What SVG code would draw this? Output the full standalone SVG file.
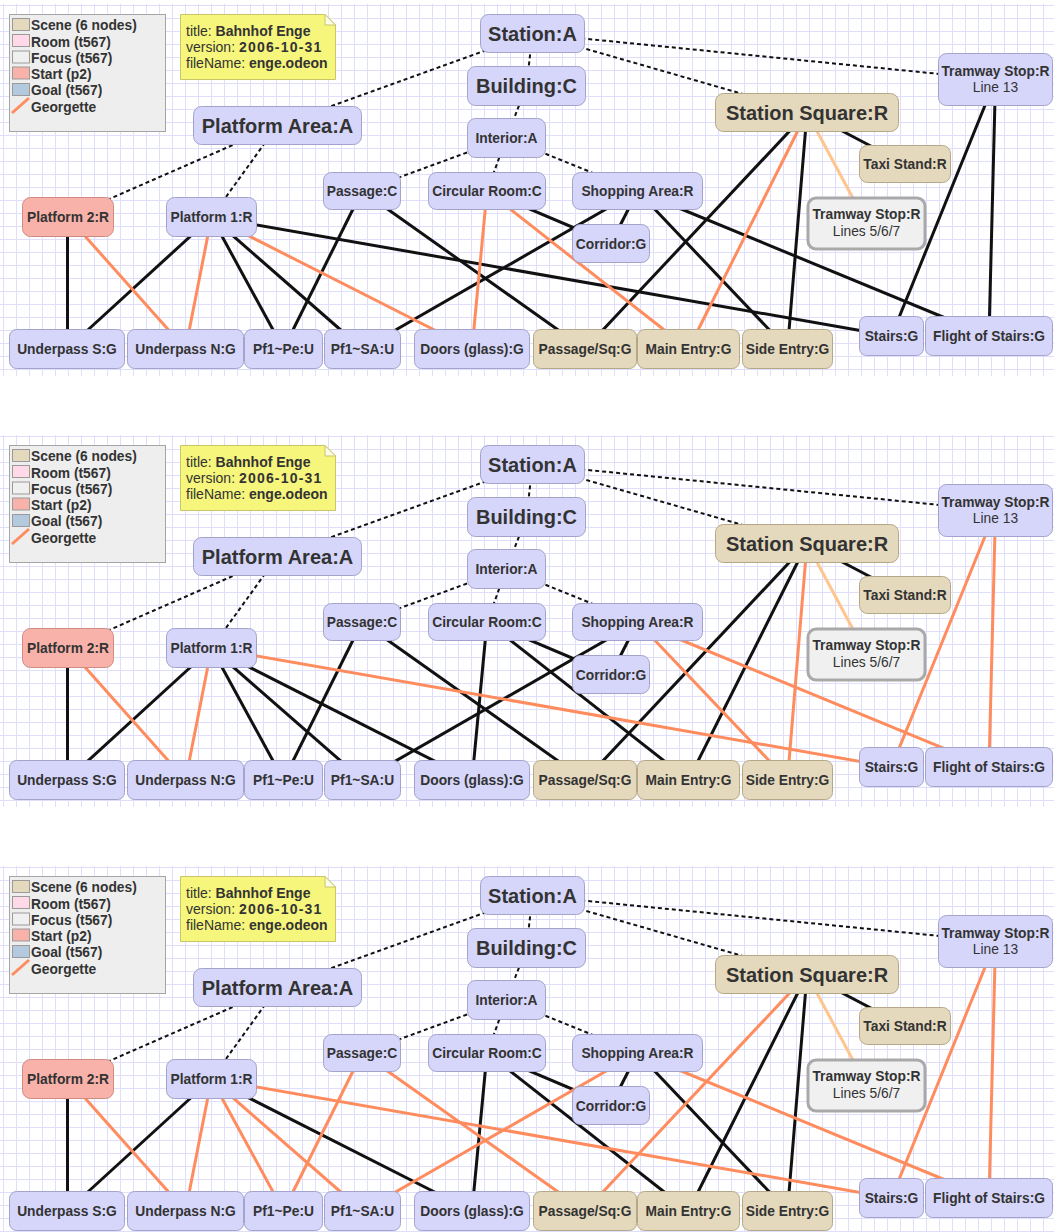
<svg xmlns="http://www.w3.org/2000/svg" width="1054" height="1232" viewBox="0 0 1054 1232">
  <defs>
    <pattern id="grid" width="13" height="13" patternUnits="userSpaceOnUse" x="3" y="5">
      <path d="M0 0.5H13M0.5 0V13" stroke="#dfdffb" stroke-width="1" fill="none"/>
    </pattern>
    <style>
      text { font-family: "Liberation Sans", Arial, sans-serif; fill: #333; font-weight: bold; }
      .big { font-size: 20px; }
      .sm { font-size: 13.8px; }
      .reg { font-weight: normal; }
      .node text { text-anchor: middle; }
      .node rect { fill: #d6d6fb; stroke: #a3a3cc; stroke-width: 1; }
      .node.scene rect { fill: #e5d9bd; stroke: #b5a888; }
      .node.start rect { fill: #f8b2aa; stroke: #cf8b84; }
      .node.focus rect { fill: #f0f0f0; stroke: #a9a9a9; stroke-width: 3; }
      .edges line { fill: none; }
      .k { stroke: #111; stroke-width: 3; }
      .o { stroke: #ff8c5e; stroke-width: 3; }
      .lo { stroke: #ffc58c; stroke-width: 3; }
      .d { stroke: #111; stroke-width: 2; stroke-dasharray: 4 3; }
      .legend-box { fill: #eeeeee; stroke: #a5a5a5; }
      .sw { stroke: #9a9a9a; stroke-width: 1; }
      .legend text { font-size: 13.8px; }
      .note path.body { fill: #f6f57c; stroke: #c9c66a; }
      .note text { font-size: 14px; }
      .wide { letter-spacing: 1.2px; }
    </style>
  </defs>

  <rect x="0" y="0" width="1054" height="1232" fill="#ffffff"/>

  <!-- ===================== panel 1 ===================== -->
  <g id="panel-1">
    <rect x="0" y="4" width="1054" height="372" fill="url(#grid)"/>

    <g id="p1-legend" class="legend">
      <rect class="legend-box" x="9.5" y="14.5" width="156" height="117"/>
      <rect class="sw" x="12.5" y="18.5" width="17" height="12" fill="#e5d9bd"/>
      <rect class="sw" x="12.5" y="34.5" width="17" height="12" fill="#ffd9e8"/>
      <rect class="sw" x="12.5" y="51" width="17" height="12" fill="#f0f0f0"/>
      <rect class="sw" x="12.5" y="67" width="17" height="12" fill="#f8b2aa"/>
      <rect class="sw" x="12.5" y="83.5" width="17" height="12" fill="#b2c9de"/>
      <line x1="12" y1="113" x2="29" y2="98" class="o"/>
      <text x="31" y="30">Scene (6 nodes)</text>
      <text x="31" y="46.5">Room (t567)</text>
      <text x="31" y="62.5">Focus (t567)</text>
      <text x="31" y="79">Start (p2)</text>
      <text x="31" y="95">Goal (t567)</text>
      <text x="31" y="111.5">Georgette</text>
    </g>

    <g id="p1-note" class="note">
      <path class="body" d="M180.5 14.5H325L335.5 25V79.5H180.5Z"/>
      <path d="M325 14.5V25H335.5Z" fill="#fbfbe8" stroke="#c9c66a"/>
      <text x="186" y="36"><tspan class="reg">title: </tspan>Bahnhof Enge</text>
      <text x="186" y="52"><tspan class="reg">version: </tspan><tspan class="wide">2006-10-31</tspan></text>
      <text x="186" y="68"><tspan class="reg">fileName: </tspan>enge.odeon</text>
    </g>

    <g id="p1-edges" class="edges">
      <line class="d" x1="532.5" y1="33.5" x2="277.5" y2="125.5"/>
      <line class="d" x1="532.5" y1="33.5" x2="526.5" y2="86"/>
      <line class="d" x1="532.5" y1="33.5" x2="995.5" y2="79.5"/>
      <line class="d" x1="532.5" y1="33.5" x2="807" y2="112.5"/>
      <line class="d" x1="526.5" y1="86" x2="506.5" y2="138"/>
      <line class="d" x1="277.5" y1="125.5" x2="68" y2="217"/>
      <line class="d" x1="277.5" y1="125.5" x2="211.5" y2="217"/>
      <line class="d" x1="506.5" y1="138" x2="362" y2="191"/>
      <line class="d" x1="506.5" y1="138" x2="487" y2="191"/>
      <line class="d" x1="506.5" y1="138" x2="637.5" y2="191"/>
      <line class="k" x1="67.5" y1="217" x2="67.5" y2="349"/>
      <line class="k" x1="211.5" y1="217" x2="67" y2="349"/>
      <line class="k" x1="211.5" y1="217" x2="283.5" y2="349"/>
      <line class="k" x1="211.5" y1="217" x2="362.5" y2="349"/>
      <line class="k" x1="211.5" y1="217" x2="891.5" y2="336"/>
      <line class="k" x1="362" y1="191" x2="283.5" y2="349"/>
      <line class="k" x1="362" y1="191" x2="585" y2="349"/>
      <line class="k" x1="487" y1="191" x2="611" y2="243.5"/>
      <line class="k" x1="637.5" y1="191" x2="362.5" y2="349"/>
      <line class="k" x1="637.5" y1="191" x2="611" y2="243.5"/>
      <line class="k" x1="637.5" y1="191" x2="787.5" y2="349"/>
      <line class="k" x1="637.5" y1="191" x2="989" y2="336"/>
      <line class="k" x1="807" y1="112.5" x2="585" y2="349"/>
      <line class="k" x1="807" y1="112.5" x2="787.5" y2="349"/>
      <line class="k" x1="807" y1="112.5" x2="905" y2="164"/>
      <line class="k" x1="995.5" y1="79.5" x2="891.5" y2="336"/>
      <line class="k" x1="995.5" y1="79.5" x2="989" y2="336"/>
      <line class="o" x1="68" y1="217" x2="185.5" y2="349"/>
      <line class="o" x1="211.5" y1="217" x2="185.5" y2="349"/>
      <line class="o" x1="211.5" y1="217" x2="472" y2="349"/>
      <line class="o" x1="487" y1="191" x2="472" y2="349"/>
      <line class="o" x1="487" y1="191" x2="688.5" y2="349"/>
      <line class="o" x1="807" y1="112.5" x2="688.5" y2="349"/>
      <line class="lo" x1="807" y1="112.5" x2="866.5" y2="223.5"/>
    </g>

    <g id="p1-station" class="node"><rect x="480.5" y="14.5" width="104" height="38" rx="8"/><text class="big" x="532.5" y="41">Station:A</text></g>
    <g id="p1-building" class="node"><rect x="467.5" y="66.5" width="118" height="39" rx="8"/><text class="big" x="526.5" y="93">Building:C</text></g>
    <g id="p1-platform-area" class="node"><rect x="193.5" y="106.5" width="168" height="38" rx="8"/><text class="big" x="277.5" y="133">Platform Area:A</text></g>
    <g id="p1-station-square" class="node scene"><rect x="715.5" y="93.5" width="183" height="38" rx="8"/><text class="big" x="807" y="119.5">Station Square:R</text></g>
    <g id="p1-tramway-13" class="node"><rect x="938.5" y="53.5" width="114" height="52" rx="8"/><text class="sm" x="995.5" y="75.5">Tramway Stop:R</text><text class="sm reg" x="995.5" y="92">Line 13</text></g>
    <g id="p1-interior" class="node"><rect x="467.5" y="118.5" width="78" height="39" rx="8"/><text class="sm" x="506.5" y="143">Interior:A</text></g>
    <g id="p1-passage" class="node"><rect x="323.5" y="172.5" width="77" height="37" rx="8"/><text class="sm" x="362" y="196">Passage:C</text></g>
    <g id="p1-circular-room" class="node"><rect x="428.5" y="172.5" width="117" height="37" rx="8"/><text class="sm" x="487" y="196">Circular Room:C</text></g>
    <g id="p1-shopping-area" class="node"><rect x="572.5" y="172.5" width="130" height="37" rx="8"/><text class="sm" x="637.5" y="196">Shopping Area:R</text></g>
    <g id="p1-corridor" class="node"><rect x="572.5" y="224.5" width="77" height="38" rx="8"/><text class="sm" x="611" y="248.5">Corridor:G</text></g>
    <g id="p1-platform-2" class="node start"><rect x="22.5" y="197.5" width="91" height="39" rx="8"/><text class="sm" x="68" y="222">Platform 2:R</text></g>
    <g id="p1-platform-1" class="node"><rect x="166.5" y="197.5" width="90" height="39" rx="8"/><text class="sm" x="211.5" y="222">Platform 1:R</text></g>
    <g id="p1-taxi-stand" class="node scene"><rect x="859.5" y="145.5" width="91" height="37" rx="8"/><text class="sm" x="905" y="169">Taxi Stand:R</text></g>
    <g id="p1-tramway-567" class="node focus"><rect x="808" y="198" width="117" height="51" rx="8"/><text class="sm" x="866.5" y="219">Tramway Stop:R</text><text class="sm reg" x="866.5" y="236">Lines 5/6/7</text></g>
    <g id="p1-underpass-s" class="node"><rect x="9.5" y="329.5" width="115" height="39" rx="7"/><text class="sm" x="67" y="354">Underpass S:G</text></g>
    <g id="p1-underpass-n" class="node"><rect x="127.5" y="329.5" width="116" height="39" rx="7"/><text class="sm" x="185.5" y="354">Underpass N:G</text></g>
    <g id="p1-pf1-pe" class="node"><rect x="244.5" y="329.5" width="78" height="39" rx="7"/><text class="sm" x="283.5" y="354">Pf1~Pe:U</text></g>
    <g id="p1-pf1-sa" class="node"><rect x="324.5" y="329.5" width="76" height="39" rx="7"/><text class="sm" x="362.5" y="354">Pf1~SA:U</text></g>
    <g id="p1-doors" class="node"><rect x="414.5" y="329.5" width="115" height="39" rx="7"/><text class="sm" x="472" y="354">Doors (glass):G</text></g>
    <g id="p1-passage-sq" class="node scene"><rect x="533.5" y="329.5" width="103" height="39" rx="7"/><text class="sm" x="585" y="354">Passage/Sq:G</text></g>
    <g id="p1-main-entry" class="node scene"><rect x="637.5" y="329.5" width="102" height="39" rx="7"/><text class="sm" x="688.5" y="354">Main Entry:G</text></g>
    <g id="p1-side-entry" class="node scene"><rect x="742.5" y="329.5" width="90" height="39" rx="7"/><text class="sm" x="787.5" y="354">Side Entry:G</text></g>
    <g id="p1-stairs" class="node"><rect x="859.5" y="316.5" width="64" height="39" rx="7"/><text class="sm" x="891.5" y="341">Stairs:G</text></g>
    <g id="p1-flight" class="node"><rect x="925.5" y="316.5" width="127" height="39" rx="7"/><text class="sm" x="989" y="341">Flight of Stairs:G</text></g>
  </g>

  <!-- ===================== panel 2 ===================== -->
  <g id="panel-2" transform="translate(0,431)">
    <rect x="0" y="4" width="1054" height="372" fill="url(#grid)"/>

    <g id="p2-legend" class="legend">
      <rect class="legend-box" x="9.5" y="14.5" width="156" height="117"/>
      <rect class="sw" x="12.5" y="18.5" width="17" height="12" fill="#e5d9bd"/>
      <rect class="sw" x="12.5" y="34.5" width="17" height="12" fill="#ffd9e8"/>
      <rect class="sw" x="12.5" y="51" width="17" height="12" fill="#f0f0f0"/>
      <rect class="sw" x="12.5" y="67" width="17" height="12" fill="#f8b2aa"/>
      <rect class="sw" x="12.5" y="83.5" width="17" height="12" fill="#b2c9de"/>
      <line x1="12" y1="113" x2="29" y2="98" class="o"/>
      <text x="31" y="30">Scene (6 nodes)</text>
      <text x="31" y="46.5">Room (t567)</text>
      <text x="31" y="62.5">Focus (t567)</text>
      <text x="31" y="79">Start (p2)</text>
      <text x="31" y="95">Goal (t567)</text>
      <text x="31" y="111.5">Georgette</text>
    </g>

    <g id="p2-note" class="note">
      <path class="body" d="M180.5 14.5H325L335.5 25V79.5H180.5Z"/>
      <path d="M325 14.5V25H335.5Z" fill="#fbfbe8" stroke="#c9c66a"/>
      <text x="186" y="36"><tspan class="reg">title: </tspan>Bahnhof Enge</text>
      <text x="186" y="52"><tspan class="reg">version: </tspan><tspan class="wide">2006-10-31</tspan></text>
      <text x="186" y="68"><tspan class="reg">fileName: </tspan>enge.odeon</text>
    </g>

    <g id="p2-edges" class="edges">
      <line class="d" x1="532.5" y1="33.5" x2="277.5" y2="125.5"/>
      <line class="d" x1="532.5" y1="33.5" x2="526.5" y2="86"/>
      <line class="d" x1="532.5" y1="33.5" x2="995.5" y2="79.5"/>
      <line class="d" x1="532.5" y1="33.5" x2="807" y2="112.5"/>
      <line class="d" x1="526.5" y1="86" x2="506.5" y2="138"/>
      <line class="d" x1="277.5" y1="125.5" x2="68" y2="217"/>
      <line class="d" x1="277.5" y1="125.5" x2="211.5" y2="217"/>
      <line class="d" x1="506.5" y1="138" x2="362" y2="191"/>
      <line class="d" x1="506.5" y1="138" x2="487" y2="191"/>
      <line class="d" x1="506.5" y1="138" x2="637.5" y2="191"/>
      <line class="k" x1="67.5" y1="217" x2="67.5" y2="349"/>
      <line class="k" x1="211.5" y1="217" x2="67" y2="349"/>
      <line class="k" x1="211.5" y1="217" x2="283.5" y2="349"/>
      <line class="k" x1="211.5" y1="217" x2="362.5" y2="349"/>
      <line class="k" x1="211.5" y1="217" x2="472" y2="349"/>
      <line class="k" x1="362" y1="191" x2="283.5" y2="349"/>
      <line class="k" x1="362" y1="191" x2="585" y2="349"/>
      <line class="k" x1="487" y1="191" x2="472" y2="349"/>
      <line class="k" x1="487" y1="191" x2="688.5" y2="349"/>
      <line class="k" x1="487" y1="191" x2="611" y2="243.5"/>
      <line class="k" x1="637.5" y1="191" x2="362.5" y2="349"/>
      <line class="k" x1="637.5" y1="191" x2="611" y2="243.5"/>
      <line class="k" x1="807" y1="112.5" x2="585" y2="349"/>
      <line class="k" x1="807" y1="112.5" x2="688.5" y2="349"/>
      <line class="k" x1="807" y1="112.5" x2="905" y2="164"/>
      <line class="o" x1="68" y1="217" x2="185.5" y2="349"/>
      <line class="o" x1="211.5" y1="217" x2="185.5" y2="349"/>
      <line class="o" x1="211.5" y1="217" x2="891.5" y2="336"/>
      <line class="o" x1="637.5" y1="191" x2="787.5" y2="349"/>
      <line class="o" x1="637.5" y1="191" x2="989" y2="336"/>
      <line class="o" x1="807" y1="112.5" x2="787.5" y2="349"/>
      <line class="o" x1="995.5" y1="79.5" x2="891.5" y2="336"/>
      <line class="o" x1="995.5" y1="79.5" x2="989" y2="336"/>
      <line class="lo" x1="807" y1="112.5" x2="866.5" y2="223.5"/>
    </g>

    <g id="p2-station" class="node"><rect x="480.5" y="14.5" width="104" height="38" rx="8"/><text class="big" x="532.5" y="41">Station:A</text></g>
    <g id="p2-building" class="node"><rect x="467.5" y="66.5" width="118" height="39" rx="8"/><text class="big" x="526.5" y="93">Building:C</text></g>
    <g id="p2-platform-area" class="node"><rect x="193.5" y="106.5" width="168" height="38" rx="8"/><text class="big" x="277.5" y="133">Platform Area:A</text></g>
    <g id="p2-station-square" class="node scene"><rect x="715.5" y="93.5" width="183" height="38" rx="8"/><text class="big" x="807" y="119.5">Station Square:R</text></g>
    <g id="p2-tramway-13" class="node"><rect x="938.5" y="53.5" width="114" height="52" rx="8"/><text class="sm" x="995.5" y="75.5">Tramway Stop:R</text><text class="sm reg" x="995.5" y="92">Line 13</text></g>
    <g id="p2-interior" class="node"><rect x="467.5" y="118.5" width="78" height="39" rx="8"/><text class="sm" x="506.5" y="143">Interior:A</text></g>
    <g id="p2-passage" class="node"><rect x="323.5" y="172.5" width="77" height="37" rx="8"/><text class="sm" x="362" y="196">Passage:C</text></g>
    <g id="p2-circular-room" class="node"><rect x="428.5" y="172.5" width="117" height="37" rx="8"/><text class="sm" x="487" y="196">Circular Room:C</text></g>
    <g id="p2-shopping-area" class="node"><rect x="572.5" y="172.5" width="130" height="37" rx="8"/><text class="sm" x="637.5" y="196">Shopping Area:R</text></g>
    <g id="p2-corridor" class="node"><rect x="572.5" y="224.5" width="77" height="38" rx="8"/><text class="sm" x="611" y="248.5">Corridor:G</text></g>
    <g id="p2-platform-2" class="node start"><rect x="22.5" y="197.5" width="91" height="39" rx="8"/><text class="sm" x="68" y="222">Platform 2:R</text></g>
    <g id="p2-platform-1" class="node"><rect x="166.5" y="197.5" width="90" height="39" rx="8"/><text class="sm" x="211.5" y="222">Platform 1:R</text></g>
    <g id="p2-taxi-stand" class="node scene"><rect x="859.5" y="145.5" width="91" height="37" rx="8"/><text class="sm" x="905" y="169">Taxi Stand:R</text></g>
    <g id="p2-tramway-567" class="node focus"><rect x="808" y="198" width="117" height="51" rx="8"/><text class="sm" x="866.5" y="219">Tramway Stop:R</text><text class="sm reg" x="866.5" y="236">Lines 5/6/7</text></g>
    <g id="p2-underpass-s" class="node"><rect x="9.5" y="329.5" width="115" height="39" rx="7"/><text class="sm" x="67" y="354">Underpass S:G</text></g>
    <g id="p2-underpass-n" class="node"><rect x="127.5" y="329.5" width="116" height="39" rx="7"/><text class="sm" x="185.5" y="354">Underpass N:G</text></g>
    <g id="p2-pf1-pe" class="node"><rect x="244.5" y="329.5" width="78" height="39" rx="7"/><text class="sm" x="283.5" y="354">Pf1~Pe:U</text></g>
    <g id="p2-pf1-sa" class="node"><rect x="324.5" y="329.5" width="76" height="39" rx="7"/><text class="sm" x="362.5" y="354">Pf1~SA:U</text></g>
    <g id="p2-doors" class="node"><rect x="414.5" y="329.5" width="115" height="39" rx="7"/><text class="sm" x="472" y="354">Doors (glass):G</text></g>
    <g id="p2-passage-sq" class="node scene"><rect x="533.5" y="329.5" width="103" height="39" rx="7"/><text class="sm" x="585" y="354">Passage/Sq:G</text></g>
    <g id="p2-main-entry" class="node scene"><rect x="637.5" y="329.5" width="102" height="39" rx="7"/><text class="sm" x="688.5" y="354">Main Entry:G</text></g>
    <g id="p2-side-entry" class="node scene"><rect x="742.5" y="329.5" width="90" height="39" rx="7"/><text class="sm" x="787.5" y="354">Side Entry:G</text></g>
    <g id="p2-stairs" class="node"><rect x="859.5" y="316.5" width="64" height="39" rx="7"/><text class="sm" x="891.5" y="341">Stairs:G</text></g>
    <g id="p2-flight" class="node"><rect x="925.5" y="316.5" width="127" height="39" rx="7"/><text class="sm" x="989" y="341">Flight of Stairs:G</text></g>
  </g>

  <!-- ===================== panel 3 ===================== -->
  <g id="panel-3" transform="translate(0,862)">
    <rect x="0" y="4" width="1054" height="372" fill="url(#grid)"/>

    <g id="p3-legend" class="legend">
      <rect class="legend-box" x="9.5" y="14.5" width="156" height="117"/>
      <rect class="sw" x="12.5" y="18.5" width="17" height="12" fill="#e5d9bd"/>
      <rect class="sw" x="12.5" y="34.5" width="17" height="12" fill="#ffd9e8"/>
      <rect class="sw" x="12.5" y="51" width="17" height="12" fill="#f0f0f0"/>
      <rect class="sw" x="12.5" y="67" width="17" height="12" fill="#f8b2aa"/>
      <rect class="sw" x="12.5" y="83.5" width="17" height="12" fill="#b2c9de"/>
      <line x1="12" y1="113" x2="29" y2="98" class="o"/>
      <text x="31" y="30">Scene (6 nodes)</text>
      <text x="31" y="46.5">Room (t567)</text>
      <text x="31" y="62.5">Focus (t567)</text>
      <text x="31" y="79">Start (p2)</text>
      <text x="31" y="95">Goal (t567)</text>
      <text x="31" y="111.5">Georgette</text>
    </g>

    <g id="p3-note" class="note">
      <path class="body" d="M180.5 14.5H325L335.5 25V79.5H180.5Z"/>
      <path d="M325 14.5V25H335.5Z" fill="#fbfbe8" stroke="#c9c66a"/>
      <text x="186" y="36"><tspan class="reg">title: </tspan>Bahnhof Enge</text>
      <text x="186" y="52"><tspan class="reg">version: </tspan><tspan class="wide">2006-10-31</tspan></text>
      <text x="186" y="68"><tspan class="reg">fileName: </tspan>enge.odeon</text>
    </g>

    <g id="p3-edges" class="edges">
      <line class="d" x1="532.5" y1="33.5" x2="277.5" y2="125.5"/>
      <line class="d" x1="532.5" y1="33.5" x2="526.5" y2="86"/>
      <line class="d" x1="532.5" y1="33.5" x2="995.5" y2="79.5"/>
      <line class="d" x1="532.5" y1="33.5" x2="807" y2="112.5"/>
      <line class="d" x1="526.5" y1="86" x2="506.5" y2="138"/>
      <line class="d" x1="277.5" y1="125.5" x2="68" y2="217"/>
      <line class="d" x1="277.5" y1="125.5" x2="211.5" y2="217"/>
      <line class="d" x1="506.5" y1="138" x2="362" y2="191"/>
      <line class="d" x1="506.5" y1="138" x2="487" y2="191"/>
      <line class="d" x1="506.5" y1="138" x2="637.5" y2="191"/>
      <line class="k" x1="67.5" y1="217" x2="67.5" y2="349"/>
      <line class="k" x1="211.5" y1="217" x2="67" y2="349"/>
      <line class="k" x1="211.5" y1="217" x2="472" y2="349"/>
      <line class="k" x1="487" y1="191" x2="472" y2="349"/>
      <line class="k" x1="487" y1="191" x2="688.5" y2="349"/>
      <line class="k" x1="487" y1="191" x2="611" y2="243.5"/>
      <line class="k" x1="637.5" y1="191" x2="611" y2="243.5"/>
      <line class="k" x1="637.5" y1="191" x2="787.5" y2="349"/>
      <line class="k" x1="807" y1="112.5" x2="688.5" y2="349"/>
      <line class="k" x1="807" y1="112.5" x2="787.5" y2="349"/>
      <line class="k" x1="807" y1="112.5" x2="905" y2="164"/>
      <line class="o" x1="68" y1="217" x2="185.5" y2="349"/>
      <line class="o" x1="211.5" y1="217" x2="185.5" y2="349"/>
      <line class="o" x1="211.5" y1="217" x2="283.5" y2="349"/>
      <line class="o" x1="211.5" y1="217" x2="362.5" y2="349"/>
      <line class="o" x1="211.5" y1="217" x2="891.5" y2="336"/>
      <line class="o" x1="362" y1="191" x2="283.5" y2="349"/>
      <line class="o" x1="362" y1="191" x2="585" y2="349"/>
      <line class="o" x1="637.5" y1="191" x2="362.5" y2="349"/>
      <line class="o" x1="637.5" y1="191" x2="989" y2="336"/>
      <line class="o" x1="807" y1="112.5" x2="585" y2="349"/>
      <line class="o" x1="995.5" y1="79.5" x2="891.5" y2="336"/>
      <line class="o" x1="995.5" y1="79.5" x2="989" y2="336"/>
      <line class="lo" x1="807" y1="112.5" x2="866.5" y2="223.5"/>
    </g>

    <g id="p3-station" class="node"><rect x="480.5" y="14.5" width="104" height="38" rx="8"/><text class="big" x="532.5" y="41">Station:A</text></g>
    <g id="p3-building" class="node"><rect x="467.5" y="66.5" width="118" height="39" rx="8"/><text class="big" x="526.5" y="93">Building:C</text></g>
    <g id="p3-platform-area" class="node"><rect x="193.5" y="106.5" width="168" height="38" rx="8"/><text class="big" x="277.5" y="133">Platform Area:A</text></g>
    <g id="p3-station-square" class="node scene"><rect x="715.5" y="93.5" width="183" height="38" rx="8"/><text class="big" x="807" y="119.5">Station Square:R</text></g>
    <g id="p3-tramway-13" class="node"><rect x="938.5" y="53.5" width="114" height="52" rx="8"/><text class="sm" x="995.5" y="75.5">Tramway Stop:R</text><text class="sm reg" x="995.5" y="92">Line 13</text></g>
    <g id="p3-interior" class="node"><rect x="467.5" y="118.5" width="78" height="39" rx="8"/><text class="sm" x="506.5" y="143">Interior:A</text></g>
    <g id="p3-passage" class="node"><rect x="323.5" y="172.5" width="77" height="37" rx="8"/><text class="sm" x="362" y="196">Passage:C</text></g>
    <g id="p3-circular-room" class="node"><rect x="428.5" y="172.5" width="117" height="37" rx="8"/><text class="sm" x="487" y="196">Circular Room:C</text></g>
    <g id="p3-shopping-area" class="node"><rect x="572.5" y="172.5" width="130" height="37" rx="8"/><text class="sm" x="637.5" y="196">Shopping Area:R</text></g>
    <g id="p3-corridor" class="node"><rect x="572.5" y="224.5" width="77" height="38" rx="8"/><text class="sm" x="611" y="248.5">Corridor:G</text></g>
    <g id="p3-platform-2" class="node start"><rect x="22.5" y="197.5" width="91" height="39" rx="8"/><text class="sm" x="68" y="222">Platform 2:R</text></g>
    <g id="p3-platform-1" class="node"><rect x="166.5" y="197.5" width="90" height="39" rx="8"/><text class="sm" x="211.5" y="222">Platform 1:R</text></g>
    <g id="p3-taxi-stand" class="node scene"><rect x="859.5" y="145.5" width="91" height="37" rx="8"/><text class="sm" x="905" y="169">Taxi Stand:R</text></g>
    <g id="p3-tramway-567" class="node focus"><rect x="808" y="198" width="117" height="51" rx="8"/><text class="sm" x="866.5" y="219">Tramway Stop:R</text><text class="sm reg" x="866.5" y="236">Lines 5/6/7</text></g>
    <g id="p3-underpass-s" class="node"><rect x="9.5" y="329.5" width="115" height="39" rx="7"/><text class="sm" x="67" y="354">Underpass S:G</text></g>
    <g id="p3-underpass-n" class="node"><rect x="127.5" y="329.5" width="116" height="39" rx="7"/><text class="sm" x="185.5" y="354">Underpass N:G</text></g>
    <g id="p3-pf1-pe" class="node"><rect x="244.5" y="329.5" width="78" height="39" rx="7"/><text class="sm" x="283.5" y="354">Pf1~Pe:U</text></g>
    <g id="p3-pf1-sa" class="node"><rect x="324.5" y="329.5" width="76" height="39" rx="7"/><text class="sm" x="362.5" y="354">Pf1~SA:U</text></g>
    <g id="p3-doors" class="node"><rect x="414.5" y="329.5" width="115" height="39" rx="7"/><text class="sm" x="472" y="354">Doors (glass):G</text></g>
    <g id="p3-passage-sq" class="node scene"><rect x="533.5" y="329.5" width="103" height="39" rx="7"/><text class="sm" x="585" y="354">Passage/Sq:G</text></g>
    <g id="p3-main-entry" class="node scene"><rect x="637.5" y="329.5" width="102" height="39" rx="7"/><text class="sm" x="688.5" y="354">Main Entry:G</text></g>
    <g id="p3-side-entry" class="node scene"><rect x="742.5" y="329.5" width="90" height="39" rx="7"/><text class="sm" x="787.5" y="354">Side Entry:G</text></g>
    <g id="p3-stairs" class="node"><rect x="859.5" y="316.5" width="64" height="39" rx="7"/><text class="sm" x="891.5" y="341">Stairs:G</text></g>
    <g id="p3-flight" class="node"><rect x="925.5" y="316.5" width="127" height="39" rx="7"/><text class="sm" x="989" y="341">Flight of Stairs:G</text></g>
  </g>
</svg>
